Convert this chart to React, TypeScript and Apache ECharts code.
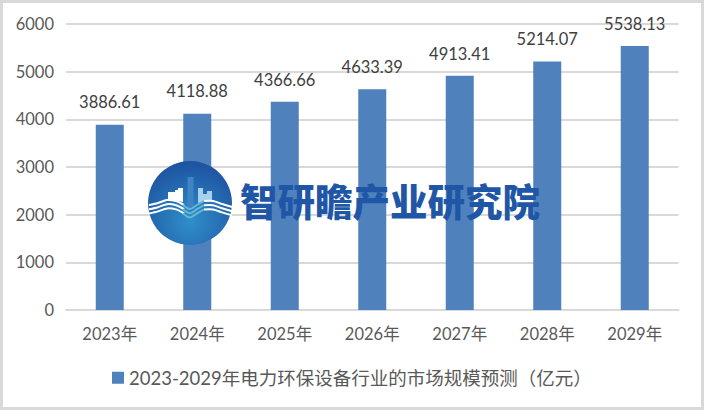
import React, { useEffect, useRef } from "react";
import * as echarts from "echarts";

const categories = ["2023年", "2024年", "2025年", "2026年", "2027年", "2028年", "2029年"];
const values = [3886.61, 4118.88, 4366.66, 4633.39, 4913.41, 5214.07, 5538.13];
const seriesName = "2023-2029年电力环保设备行业的市场规模预测（亿元）";
const FONT = "Lato, 'Noto Sans CJK SC', sans-serif";

const waveLeft = [[149, 205], [158, 203], [167, 200], [176, 201], [184, 205]];
const waveMid = [[183, 205], [190, 209], [197, 205], [204, 201]];
const waveRight = [[204, 201], [213, 201], [222, 204], [232, 207]];
const waveOffsets = [0, 4.2, 8.4];

function waves() {
  const out: any[] = [];
  waveOffsets.forEach((dy) => {
    [
      { pts: waveLeft, color: "#ffffff" },
      { pts: waveRight, color: "#ffffff" },
      { pts: waveMid, color: "#63b8d4" },
    ].forEach(({ pts, color }) => {
      out.push({
        type: "polyline",
        z: 22,
        shape: { points: pts.map(([x, y]) => [x, y + dy]), smooth: 0.3 },
        style: { fill: "none", stroke: color, lineWidth: 2 },
      });
    });
  });
  return out;
}

export default function App() {
  const ref = useRef<HTMLDivElement>(null);
  useEffect(() => {
    const chart = echarts.init(ref.current!, undefined, { renderer: "svg" });
    chart.setOption({
      animation: false,
      backgroundColor: "#ffffff",
      grid: { left: 66, right: 25.5, top: 24, bottom: 100, containLabel: false },
      legend: {
        show: true,
        bottom: 18,
        left: 107,
        icon: "rect",
        itemWidth: 12,
        itemHeight: 12,
        itemGap: 7,
        textStyle: { color: "#595959", fontSize: 18.5, fontFamily: FONT },
      },
      xAxis: {
        type: "category",
        data: categories,
        axisLine: { lineStyle: { color: "#d9d9d9", width: 2 } },
        axisTick: { show: false },
        axisLabel: { color: "#595959", fontSize: 16.5, margin: 16, fontFamily: FONT },
      },
      yAxis: {
        type: "value",
        min: 0,
        max: 6000,
        interval: 1000,
        axisLine: { show: false },
        axisTick: { show: false },
        splitLine: { lineStyle: { color: "#d9d9d9", width: 2 } },
        axisLabel: {
          color: "#595959",
          fontSize: 16.5,
          margin: 12,
          fontFamily: FONT,
          formatter: (v: number) => String(v),
        },
      },
      series: [
        {
          name: seriesName,
          type: "bar",
          data: values,
          barWidth: 28,
          itemStyle: { color: "#4f81bd" },
          label: {
            show: true,
            position: "top",
            distance: 14,
            color: "#404040",
            fontSize: 16.5,
            fontFamily: FONT,
            formatter: (p: any) => p.value.toFixed(2),
          },
        },
      ],
      graphic: [
        {
          type: "rect",
          z: 30,
          shape: { x: 1.5, y: 1.5, width: 701, height: 407 },
          style: { fill: "none", stroke: "#d9d9d9", lineWidth: 3 },
        },
        {
          type: "circle",
          z: 20,
          shape: { cx: 190, cy: 203, r: 42 },
          style: {
            fill: new echarts.graphic.RadialGradient(0.5, 0.72, 0.75, [
              { offset: 0, color: "#2f8fca" },
              { offset: 1, color: "#1d4f9e" },
            ]),
          },
        },
        {
          type: "polygon",
          z: 21,
          shape: {
            points: [[168, 199], [168, 192], [175, 192], [175, 190], [178, 190], [178, 188], [183, 188], [183, 202]],
          },
          style: { fill: "#ffffff" },
        },
        {
          type: "rect",
          z: 21,
          shape: { x: 187.5, y: 177, width: 6, height: 30 },
          style: { fill: "#3f85c4" },
        },
        {
          type: "polygon",
          z: 21,
          shape: {
            points: [[198, 203], [198, 188], [203, 188], [203, 194], [207, 194], [207, 191], [212, 191], [212, 200]],
          },
          style: { fill: "#a9d0ea" },
        },
        ...waves(),
        {
          type: "text",
          z: 25,
          x: 240,
          y: 199,
          style: {
            text: "智研瞻产业研究院",
            fill: "#1f57a6",
            fontSize: 37.5,
            fontWeight: 900,
            fontFamily: "'Noto Sans CJK SC', sans-serif",
            textAlign: "left",
            textVerticalAlign: "middle",
          },
        },
      ],
    });
    return () => chart.dispose();
  }, []);
  return (
    <div
      ref={ref}
      style={{ position: "fixed", left: 0, top: 0, width: 704, height: 410 }}
    />
  );
}
